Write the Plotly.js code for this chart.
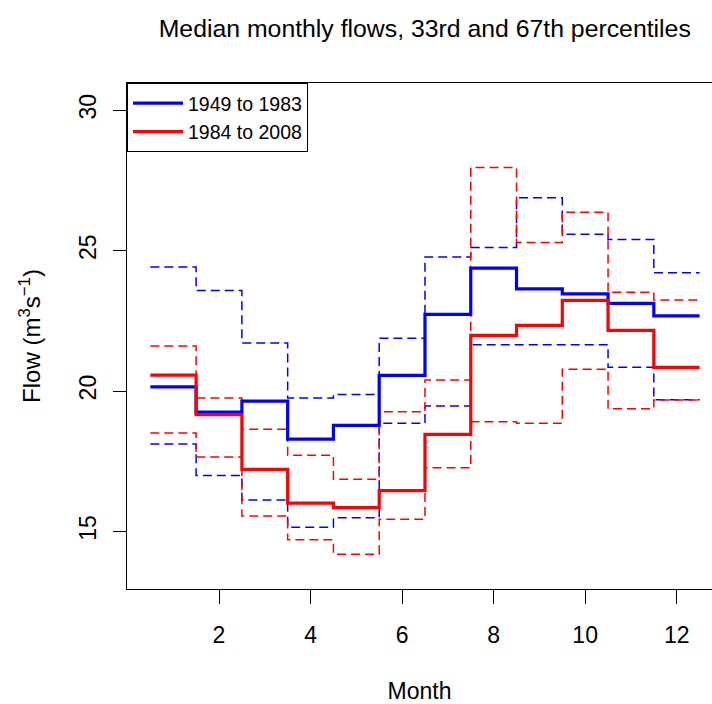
<!DOCTYPE html>
<html>
<head>
<meta charset="utf-8">
<script src="https://cdn.plot.ly/plotly-3.0.1.min.js"></script>
<style>html,body{margin:0;padding:0;background:#fff;}#chart{width:712px;height:704px;}</style>
</head>
<body>
<div id="chart"></div>
<script>
// Months and series values
var months = [1, 2, 3, 4, 5, 6, 7, 8, 9, 10, 11, 12];
var blueMedian = [20.15, 19.25, 19.64, 18.29, 18.78, 20.56, 22.73, 24.38, 23.64, 23.46, 23.12, 22.68];
var redMedian  = [20.57, 19.16, 17.21, 16.01, 15.85, 16.45, 18.46, 21.98, 22.34, 23.23, 22.16, 20.84];
var blueP67    = [24.42, 23.58, 21.71, 19.75, 19.88, 21.88, 24.77, 25.11, 26.88, 25.58, 25.40, 24.21];
var blueP33    = [18.11, 16.99, 16.12, 15.15, 15.49, 18.85, 19.47, 21.65, 21.65, 21.65, 20.85, 19.69];
var redP67     = [21.60, 19.75, 18.64, 17.71, 16.86, 19.26, 20.39, 27.96, 25.29, 26.37, 23.52, 23.24];
var redP33     = [18.51, 17.65, 15.55, 14.70, 14.19, 15.43, 17.27, 18.91, 18.85, 20.78, 19.37, 19.68];
var seriesNames = ["1949 to 1983", "1984 to 2008"];
var xTicks = [2, 4, 6, 8, 10, 12];
var yTicks = [15, 20, 25, 30];

// Step representation: each month spans month-0.5 .. month+0.5
function stepX(ms) {
  var xs = ms.map(function (m) { return m - 0.5; });
  xs.push(ms[ms.length - 1] + 0.5);
  return xs;
}
function stepY(vs) {
  var ys = vs.slice();
  ys.push(vs[vs.length - 1]);
  return ys;
}

var BLUE = "#0000FF", RED = "#FF0000";
var dashStyle = "9px,5px";

function trace(vals, color, width, dash, name, showLegend) {
  return {
    type: "scatter", mode: "lines",
    x: stepX(months), y: stepY(vals),
    line: {color: color, width: width, dash: dash, shape: "hv"},
    name: name || "", showlegend: !!showLegend, hoverinfo: "skip"
  };
}

var data = [
  trace(blueP67, BLUE, 1.5, dashStyle),
  trace(blueP33, BLUE, 1.5, dashStyle),
  trace(redP67, RED, 1.5, dashStyle),
  trace(redP33, RED, 1.5, dashStyle),
  trace(blueMedian, BLUE, 3.2, "solid", seriesNames[0], true),
  trace(redMedian, RED, 3.2, "solid", seriesNames[1], true)
];

var FONT = "Liberation Sans, Arial, Helvetica, sans-serif";

var layout = {
  width: 712, height: 704,
  margin: {l: 127, r: 0, t: 83, b: 115, pad: 0},
  paper_bgcolor: "#fff", plot_bgcolor: "#fff",
  font: {family: FONT, color: "#000", size: 23},
  showlegend: true,
  title: {
    text: "Median monthly flows, 33rd and 67th percentiles",
    font: {family: FONT, size: 24.8, color: "#000"},
    xref: "paper", x: 0.509, xanchor: "center",
    yref: "container", y: 1 - 28 / 704, yanchor: "middle"
  },
  xaxis: {
    range: [-0.01, 12.771],
    tickvals: xTicks, ticktext: xTicks.map(String),
    ticks: "outside", ticklen: 14, tickwidth: 1, tickcolor: "#000",
    showline: true, linecolor: "#000", linewidth: 1, mirror: true,
    showgrid: false, zeroline: false,
    tickfont: {family: FONT, size: 23, color: "#000"},
    ticklabelstandoff: 11,
    title: {text: "Month", font: {family: FONT, size: 23, color: "#000"}, standoff: 42},
    automargin: false, fixedrange: true
  },
  yaxis: {
    range: [12.95, 30.97],
    tickvals: yTicks, ticktext: yTicks.map(String),
    ticks: "outside", ticklen: 13, tickwidth: 1, tickcolor: "#000",
    tickangle: -90,
    showline: true, linecolor: "#000", linewidth: 1, mirror: false,
    showgrid: false, zeroline: false,
    tickfont: {family: FONT, size: 23, color: "#000"},
    ticklabelstandoff: 8,
    title: {text: "Flow (m<sup>3</sup>s<sup>\u22121</sup>)", font: {family: FONT, size: 24, color: "#000"}, standoff: 27},
    automargin: false, fixedrange: true
  },
  legend: {
    x: 0, y: 1, xanchor: "left", yanchor: "top",
    bgcolor: "#fff", bordercolor: "#000", borderwidth: 1,
    font: {family: FONT, size: 19.5, color: "#000"},
    itemwidth: 50,
    tracegroupgap: 0, itemclick: false, itemdoubleclick: false
  }
};

Plotly.newPlot("chart", data, layout, {staticPlot: true, displayModeBar: false});
</script>
</body>
</html>
